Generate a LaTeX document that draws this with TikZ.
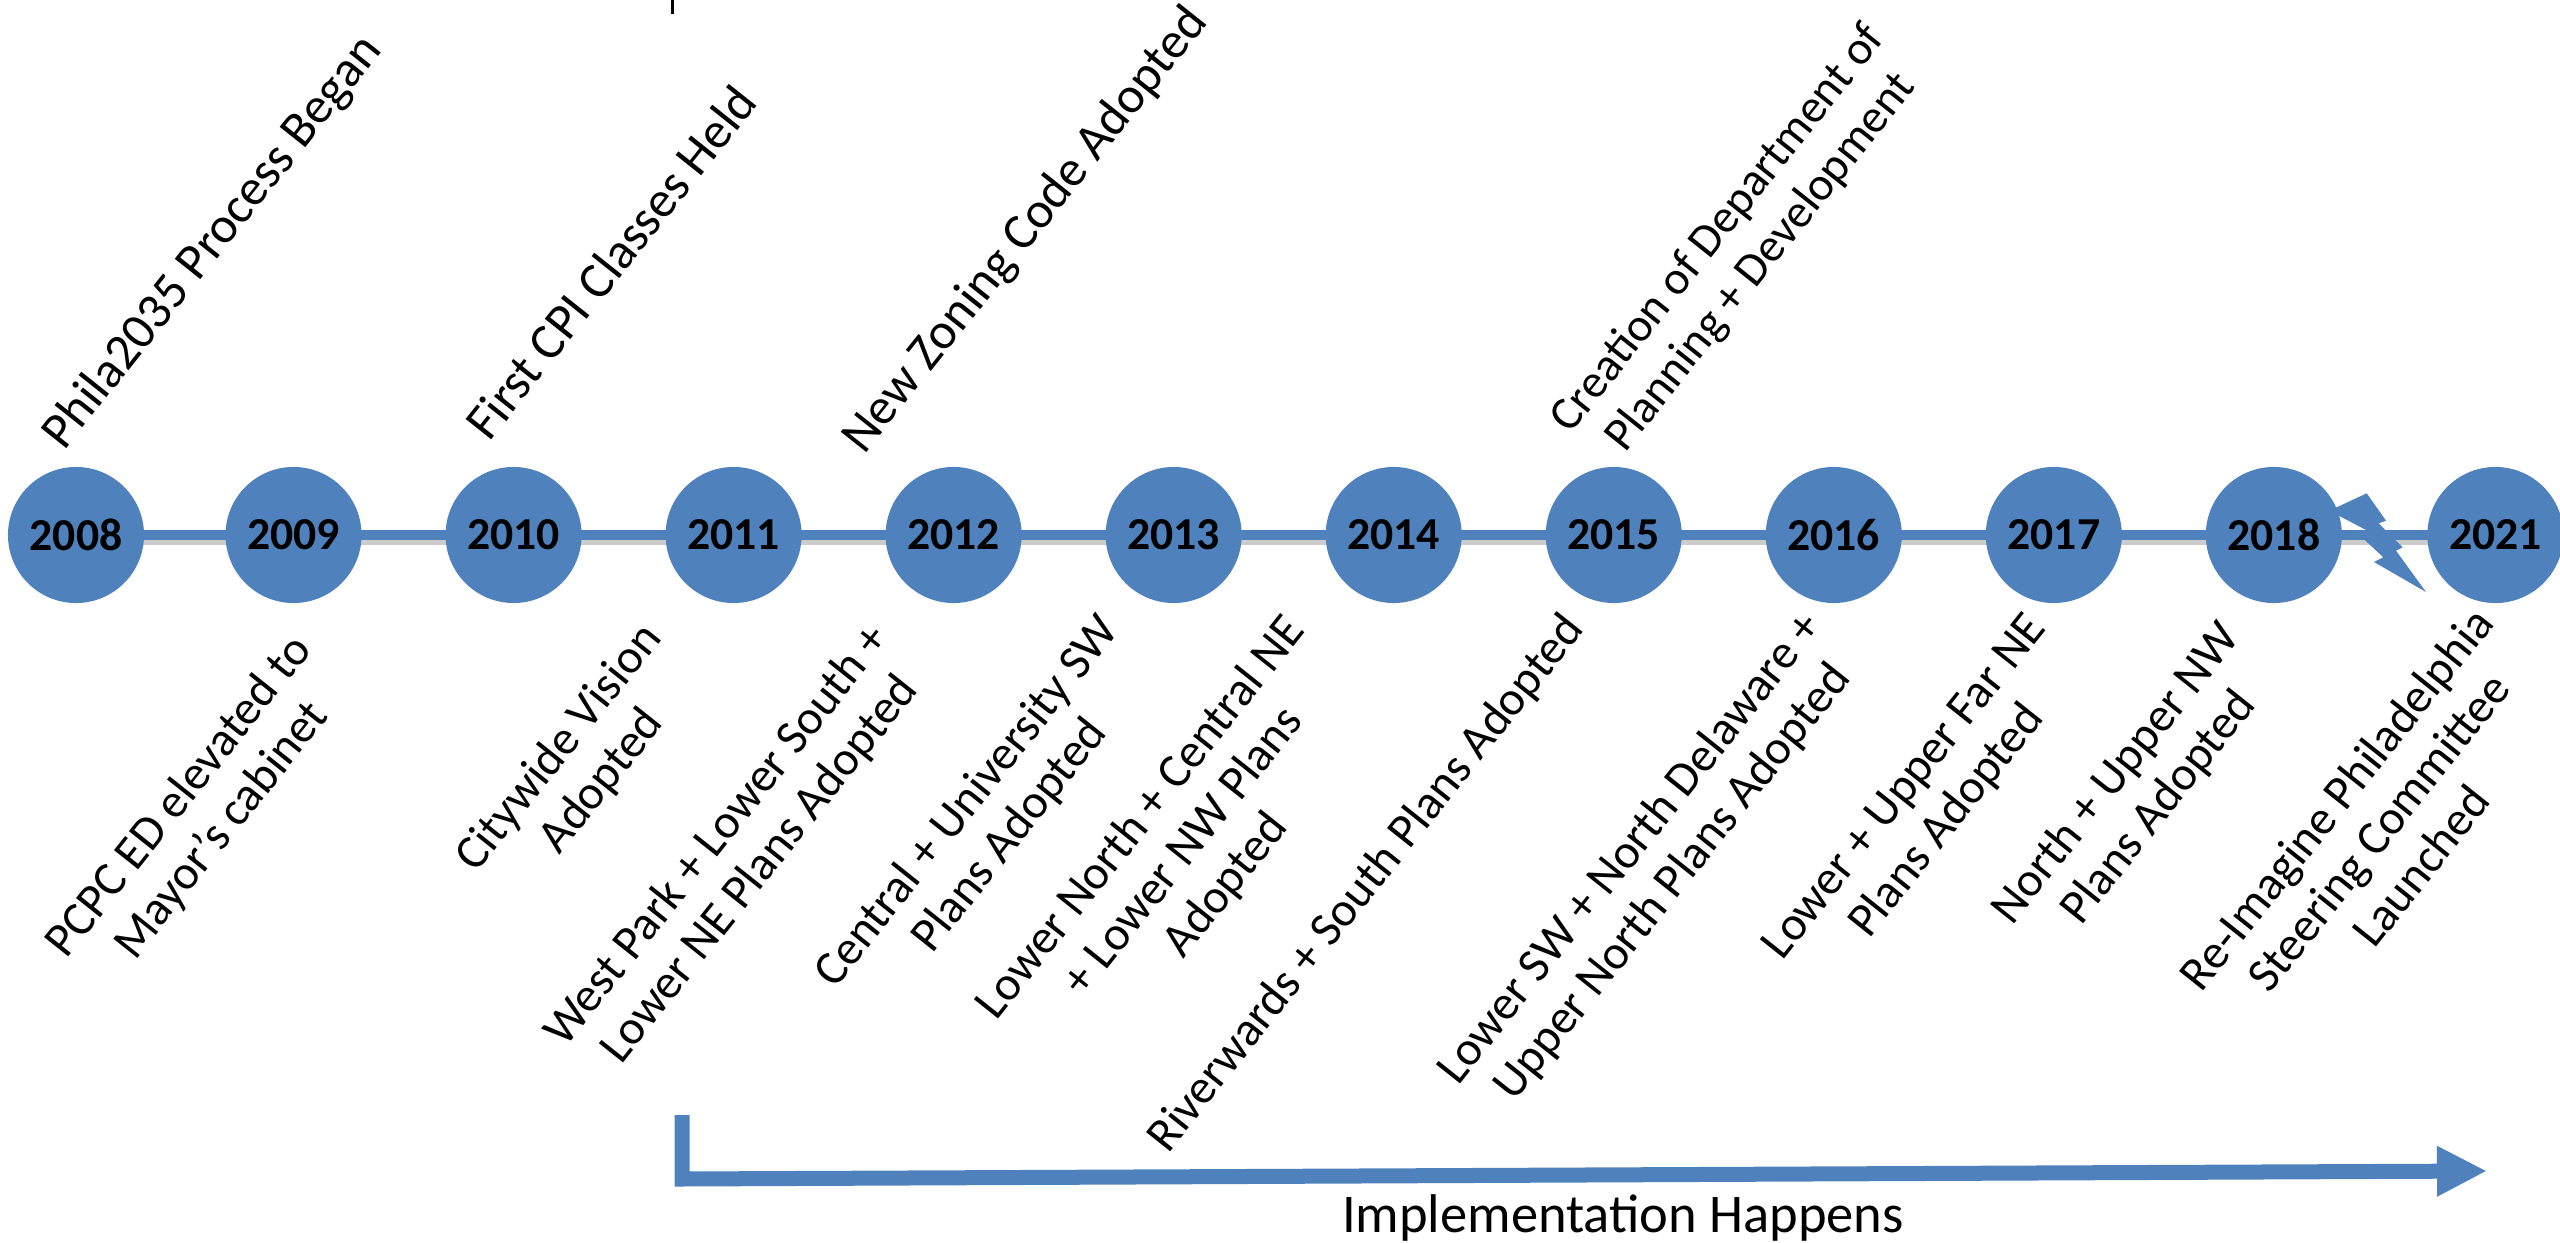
\documentclass[tikz,border=0pt]{standalone}
\usepackage{fontspec}
\setmainfont{Carlito}
\usepackage{xcolor}
\usepackage{tikz}
\usetikzlibrary{arrows.meta,positioning,backgrounds}
\definecolor{tlblue}{HTML}{4F81BD}

\begin{document}
\begin{tikzpicture}[x=0.01cm, y=-0.01cm,
  yr/.style  ={circle, fill=tlblue, minimum size=1.36cm, inner sep=0pt,
               font=\fontsize{13}{15}\selectfont\bfseries},
  lbl/.style ={rotate=51.5, align=center, inner sep=0pt,
               font=\fontsize{13.7}{15.4}\selectfont},
  ulbl/.style={rotate=51.5, anchor=base west, inner sep=0pt,
               font=\fontsize{14.5}{16}\selectfont},
  tline/.style={tlblue, line width=0.1cm},
  tshadow/.style={black, opacity=0.2, line width=0.09cm},
  impl/.style={tlblue, line width=0.15cm, -{Triangle[length=0.5cm, width=0.47cm]}},
  node distance=0.825cm]
\useasboundingbox (0,0) rectangle (2560,1243);
% years
\node[yr] (y2008) at (76,535) {2008};
\node[yr, right=0.80cm of y2008] (y2009) {2009};
\node[yr, right=of y2009] (y2010) {2010};
\node[yr, right=of y2010] (y2011) {2011};
\node[yr, right=of y2011] (y2012) {2012};
\node[yr, right=of y2012] (y2013) {2013};
\node[yr, right=of y2013] (y2014) {2014};
\node[yr, right=of y2014] (y2015) {2015};
\node[yr, right=of y2015] (y2016) {2016};
\node[yr, right=of y2016] (y2017) {2017};
\node[yr, right=of y2017] (y2018) {2018};
\node[yr, right=0.84cm of y2018] (y2021) {2021};
\coordinate (lineend) at (2560,535);
\begin{scope}[on background layer]
  \draw[tshadow] ([yshift=-0.05cm]y2008.center) -- ([yshift=-0.05cm]lineend);
  \draw[tline] (y2008.center) -- (lineend);
\end{scope}
% break between 2018 and 2021
\fill[tlblue] (2329.3,510.7) -- (2366.7,493.3) -- (2386.0,520.7) -- (2378.7,523.3)
  -- (2402.7,547.3) -- (2396.0,550.7) -- (2426.0,592.0) -- (2374.0,562.0)
  -- (2383.3,557.3) -- (2358.3,534.0) -- (2366.0,530.0) -- cycle;
% events above
\node[ulbl] (phila) at (64,452) {Phila2035 Process Began};
\node[ulbl] (cpi) at (489,443) {First CPI Classes Held};
\node[ulbl] (zoning) at (864,456) {New Zoning Code Adopted};
\node[lbl, font=\fontsize{13.4}{15.4}\selectfont] (dept) at (1740,246) {Creation of Department of\\Planning + Development};
% events below
\node[lbl] (pcpc) at (201,814) {PCPC ED elevated to\\Mayor's cabinet};
\node[lbl] (vision) at (581,765) {Citywide Vision\\Adopted};
\node[lbl] (westpark) at (739,853) {West Park + Lower South +\\Lower NE Plans Adopted};
\node[lbl] (central) at (989,819) {Central + University SW\\Plans Adopted};
\node[lbl] (lowernorth) at (1184,852) {Lower North + Central NE\\+ Lower NW Plans\\Adopted};
\node[lbl] (riverwards) at (1367,884) {Riverwards + South Plans Adopted};
\node[lbl] (lowersw) at (1652,866) {Lower SW + North Delaware +\\Upper North Plans Adopted};
\node[lbl] (farne) at (1927,805) {Lower + Upper Far NE\\Plans Adopted};
\node[lbl] (uppernw) at (2138,791) {North + Upper NW\\Plans Adopted};
\node[lbl] (reimagine) at (2378,832) {Re-Imagine Philadelphia\\Steering Committee\\Launched};
% implementation arrow
\coordinate (implstart) at (682,1115);
\coordinate (implcorner) at (682,1179);
\coordinate (implend) at (2487,1171);
\draw[impl] (implstart) -- (implcorner) -- (implend);
\node[font=\fontsize{15.5}{18}\selectfont, anchor=base, inner sep=0pt] (impltext) at (1623,1232) {Implementation Happens};
% stray mark at top
\coordinate (ticktop) at (672,0);
\coordinate (tickbot) at (672,14);
\draw[line width=0.03cm] (ticktop) -- (tickbot);
\end{tikzpicture}
\end{document}
